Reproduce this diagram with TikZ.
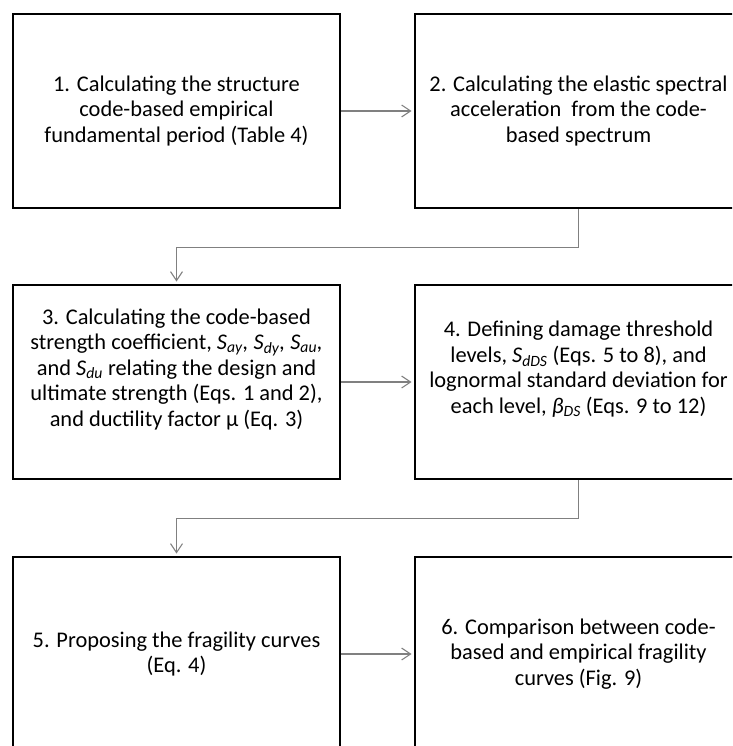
\documentclass[tikz,border=0pt]{standalone}
\usepackage{fontspec}
\setmainfont{Carlito}
\usetikzlibrary{arrows.meta}
\newcommand\Sx[1]{\textit{S}\textsubscript{\textit{#1}}}
\definecolor{conngray}{HTML}{808080}
\begin{document}
\begin{tikzpicture}[x=1pt,y=-1pt,
  stepbox/.style={draw=black,line width=2.8pt,minimum width=327pt,minimum height=194pt,
    align=center,font=\fontsize{22.4}{25.5}\selectfont,inner sep=0pt},
  conn/.style={draw=conngray,line width=1.3pt,shorten >=2pt,
    -{Straight Barb[length=9pt,width=12pt,line width=1.1pt]}}]
\useasboundingbox (0,0) rectangle (732,746);
\clip (0,0) rectangle (732,746);
\node[stepbox] (b1) at (176.5,111) {1. Calculating the structure\\code-based empirical\\fundamental period (Table 4)};
\node[stepbox] (b2) at (578.5,111) {2. Calculating the elastic spectral\\acceleration\ \ from the code-\\based spectrum};
\node[stepbox] (b3) at (176.5,382) {3. Calculating the code-based\\strength coefficient, \Sx{ay}\textit{,} \Sx{dy}\textit{,} \Sx{au}\textit{,}\\and \Sx{du} relating the design and\\ultimate strength (Eqs. 1 and 2),\\and ductility factor μ (Eq. 3)\\[4pt]};
\node[stepbox] (b4) at (578.5,382) {4. Defining damage threshold\\levels, \Sx{dDS} (Eqs. 5 to 8), and\\lognormal standard deviation for\\each level, \textit{β}\textsubscript{\textit{DS}} (Eqs. 9 to 12)\\[4pt]};
\node[stepbox] (b5) at (176.5,654) {5. Proposing the fragility curves\\(Eq. 4)};
\node[stepbox] (b6) at (578.5,654) {6. Comparison between code-\\based and empirical fragility\\curves (Fig. 9)};
\draw[conn] (b1.east) -- (b2.west);
\draw[conn] (b2.south) -- ++(0,38) -| (b3.north);
\draw[conn] (b3.east) -- (b4.west);
\draw[conn] (b4.south) -- ++(0,38) -| (b5.north);
\draw[conn] (b5.east) -- (b6.west);
\end{tikzpicture}
\end{document}
